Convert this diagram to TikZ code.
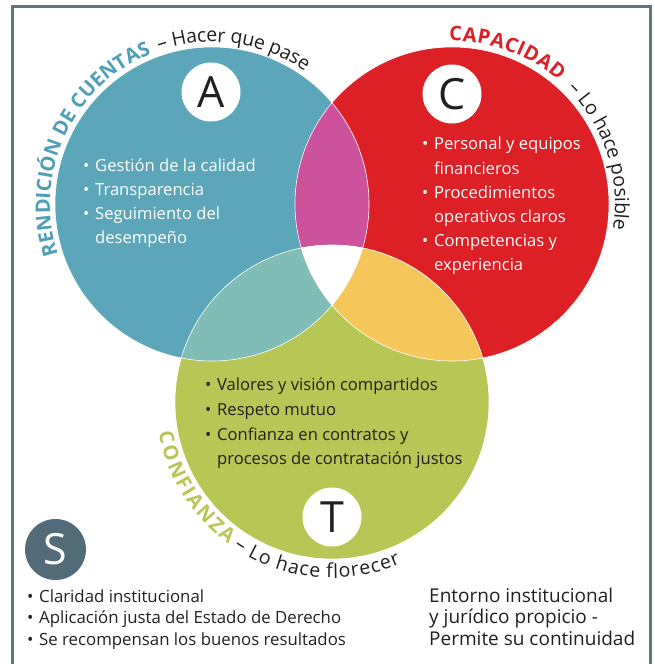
\documentclass[tikz,border=0pt]{standalone}
\usepackage{fontspec}
\setmainfont{Open Sans}
\usetikzlibrary{decorations.text}

\definecolor{aBlue}{HTML}{5BA6B9}
\definecolor{aBlueText}{HTML}{4E9FB5}
\definecolor{cRed}{HTML}{DD1F26}
\definecolor{tGreen}{HTML}{B8C655}
\definecolor{acMagenta}{HTML}{CC529C}
\definecolor{atTeal}{HTML}{80BDB6}
\definecolor{ctYellow}{HTML}{F5C75A}
\definecolor{sSlate}{HTML}{526B78}
\definecolor{frameGray}{HTML}{5D7682}
\definecolor{inkDark}{HTML}{231F20}

\newcommand{\arcbold}{\fontsize{20}{20}\selectfont\bfseries}
\newcommand{\arcreg}{\fontsize{19.5}{19.5}\selectfont\mdseries}
\newcommand{\itm}{\makebox[12pt][l]{•}}
\newcommand{\cnt}{\hspace*{12pt}}

\begin{document}
\begin{tikzpicture}[x=1pt,y=1pt,
  letterdisk/.style={circle, fill=white, inner sep=0pt, minimum size=59pt,
    text=inkDark, font=\fontsize{43}{43}\selectfont},
  circlelist/.style={anchor=base west, align=left, inner sep=0pt,
    font=\fontsize{16.6}{24.2}\selectfont},
  footlist/.style={anchor=base west, align=left, inner sep=0pt, text=inkDark,
    font=\fontsize{16.8}{21.5}\selectfont},
  arctitle/.style 2 args={decorate, decoration={text effects along path, text={#1},
    text effects/.cd, text along path, fit text to path, characters={#2}}}]
\useasboundingbox (0,0) rectangle (654,664);
% Drawing frame
\draw[frameGray, line width=2.6pt] (12.5,0) -- (12.5,657.5) -- (650.5,657.5) -- (650.5,0);
% Drawing circles
\coordinate (cA) at (212,460);
\coordinate (cC) at (452,460);
\coordinate (cT) at (332,262);
\fill[aBlue] (cA) circle(157);
\fill[cRed] (cC) circle(157);
\fill[tGreen] (cT) circle(157);
% Overlaps
\begin{scope}
\clip (cA) circle(157);
\fill[acMagenta] (cC) circle(157);
\fill[atTeal] (cT) circle(157);
\clip (cC) circle(157);
\fill[white] (cT) circle(157);
\end{scope}
\begin{scope}
\clip (cC) circle(157);
\clip (cT) circle(157);
\fill[ctYellow] (cC) circle(157);
\clip (cA) circle(157);
\fill[white] (cA) circle(157);
\end{scope}
\draw[white, line width=0.6pt] (cA) circle(157) (cC) circle(157) (cT) circle(157);
% Done with circles; drawing letters
\node[letterdisk] (letA) at (211,572) {A};
\node[letterdisk] (letC) at (452,570) {C};
\node[letterdisk] (letT) at (332,147) {T};
\node[letterdisk, fill=sSlate, text=white, minimum size=61pt] (letS) at (55.5,114.5) {S};
% Curved titles
\path[arctitle={RENDICIÓN DE CUENTAS}{font=\arcbold, text=aBlueText}]
  (cA) ++(198:162) arc[start angle=198, end angle=112, radius=162];
\path[arctitle={– Hacer que pase}{font=\arcreg, text=inkDark}]
  (cA) ++(109:162) arc[start angle=109, end angle=55, radius=162];
\path[arctitle={CAPACIDAD}{font=\arcbold, text=cRed}]
  (cC) ++(91:163) arc[start angle=91, end angle=49, radius=163];
\path[arctitle={– Lo hace posible}{font=\arcreg, text=inkDark}]
  (cC) ++(45:163) arc[start angle=45, end angle=-9, radius=163];
\path[arctitle={CONFIANZA}{font=\arcbold, text=tGreen}]
  (cT) ++(190:176) arc[start angle=190, end angle=234, radius=176];
\path[arctitle={– Lo hace florecer}{font=\arcreg, text=inkDark}]
  (cT) ++(236:176) arc[start angle=236, end angle=293, radius=176];
% Lists inside circles (base anchor sits on the last line)
\node[circlelist, text=white] (listA) at (83,420)
  {\itm Gestión de la calidad\\ \itm Transparencia\\ \itm Seguimiento del\\ \cnt desempeño};
\node[circlelist, text=white] (listC) at (422,393)
  {\itm Personal y equipos\\ \cnt financieros\\ \itm Procedimientos\\ \cnt operativos claros\\
   \itm Competencias y\\ \cnt experiencia};
\node[circlelist, text=inkDark, font=\fontsize{16.6}{24.7}\selectfont] (listT) at (205,199)
  {\itm Valores y visión compartidos\\ \itm Respeto mutuo\\ \itm Confianza en contratos y\\
   \cnt procesos de contratación justos};
% Footer texts
\node[footlist] (listS) at (27,19)
  {\itm Claridad institucional\\ \itm Aplicación justa del Estado de Derecho\\
   \itm Se recompensan los buenos resultados};
\node[footlist, font=\fontsize{19}{21.5}\selectfont] (envNote) at (429,19)
  {Entorno institucional\\ y jurídico propicio -\\ Permite su continuidad};
\end{tikzpicture}
\end{document}
